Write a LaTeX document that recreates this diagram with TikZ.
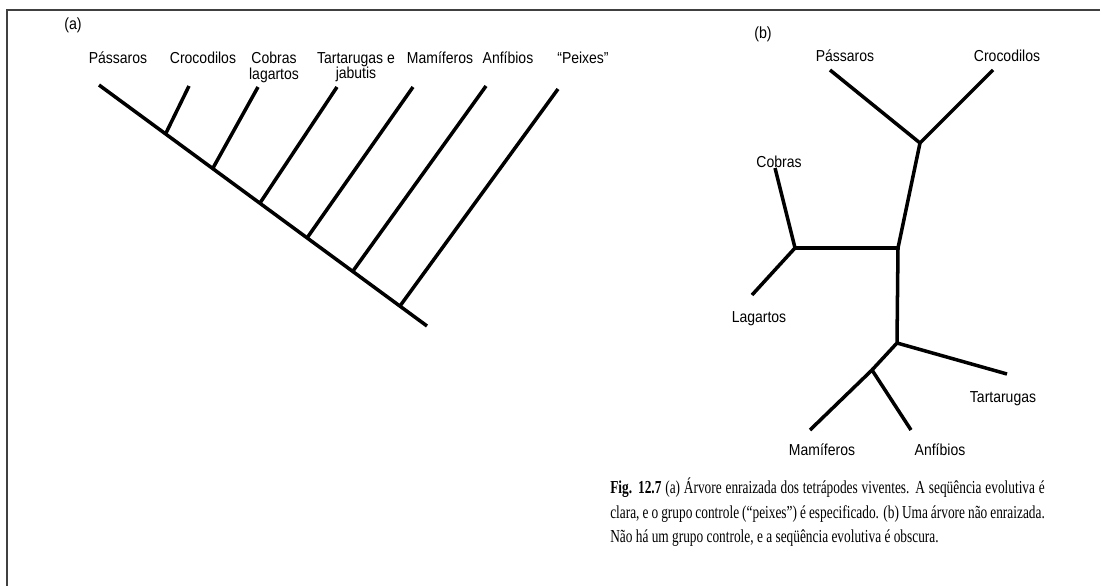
\documentclass[tikz,border=0pt]{standalone}
\usepackage{fontspec}
\setmainfont{Liberation Serif}
\setsansfont{Liberation Sans}
\newfontfamily\labfont[FakeStretch=0.88]{Liberation Sans}
\newfontfamily\capfont[FakeStretch=0.73]{Liberation Serif}
\usetikzlibrary{positioning,calc}

\begin{document}
\begin{tikzpicture}[
  x=0.025cm, y=-0.025cm,
  branch/.style={line width=2.5pt,black},
  taxon/.style={font=\labfont\fontsize{11.3}{11}\selectfont,inner sep=0pt,align=center},
  panel/.style={font=\labfont\fontsize{11.5}{12}\selectfont,inner sep=0pt},
  frame/.style={line width=0.9pt,black!75},
  caption/.style={font=\capfont\fontsize{13}{17.3}\selectfont,inner sep=0pt,text width=309pt,align=justify,anchor=north west}
]
\useasboundingbox (0,0) rectangle (1100,586);
\draw[frame] (7,586) |- (1100,10);

% (a) rooted tree
\node[panel,anchor=base] (pa) at (73,29) {(a)};
\coordinate (a0) at (99,85);
\coordinate (a9) at (427,326);
\coordinate (ja1) at (166,133);
\coordinate (ja2) at (213,168);
\coordinate (ja3) at (260,203);
\coordinate (ja4) at (307,238);
\coordinate (ja5) at (353,271);
\coordinate (ja6) at (400,306);
\coordinate (ta1) at (189,86);
\coordinate (ta2) at (258,87);
\coordinate (ta3) at (337,87);
\coordinate (ta4) at (413,87);
\coordinate (ta5) at (486,86);
\coordinate (ta6) at (558,89);
\draw[branch] (a0) -- (a9);
\foreach \i in {1,...,6}
  \draw[branch] (ja\i) -- (ta\i);

\node[taxon,anchor=north] (la0) at (118,52) {Pássaros};
\node[taxon,anchor=north] (la1) at (203,52) {Crocodilos};
\node[taxon,anchor=north] (la2) at (274,52) {Cobras\\lagartos};
\node[taxon,anchor=north] (la3) at (356,52) {Tartarugas e\\jabutis};
\node[taxon,anchor=north] (la4) at (440,52) {Mamíferos};
\node[taxon,anchor=north] (la5) at (508,52) {Anfíbios};
\node[taxon,anchor=north] (la6) at (583,52) {“Peixes”};

% (b) unrooted tree
\node[panel,anchor=base] (pb) at (763,38) {(b)};
\coordinate (jb1) at (920,143);
\coordinate (jb2) at (898,248);
\coordinate (jb3) at (795,248);
\coordinate (jb4) at (897,343);
\coordinate (jb5) at (872,370);
\coordinate (tb1) at (830,70);
\coordinate (tb2) at (993,70);
\coordinate (tb3) at (775,168);
\coordinate (tb4) at (752,295);
\coordinate (tb5) at (1007,374);
\coordinate (tb6) at (810,430);
\coordinate (tb7) at (911,430);
\draw[branch] (tb1) -- (jb1) -- (tb2);
\draw[branch] (jb1) -- (jb2) -- (jb4) -- (jb5);
\draw[branch] (jb2) -- (jb3);
\draw[branch] (tb3) -- (jb3) -- (tb4);
\draw[branch] (jb4) -- (tb5);
\draw[branch] (tb6) -- (jb5) -- (tb7);

\node[taxon,anchor=base] (lb1) at (845,61) {Pássaros};
\node[taxon,anchor=base] (lb2) at (1007,61) {Crocodilos};
\node[taxon,anchor=base] (lb3) at (779,167) {Cobras};
\node[taxon,anchor=base] (lb4) at (759,322) {Lagartos};
\node[taxon,anchor=base] (lb5) at (1003,402) {Tartarugas};
\node[taxon,anchor=base] (lb6) at (822,455) {Mamíferos};
\node[taxon,anchor=base] (lb7) at (940,455) {Anfíbios};

\node[caption] (cap) at (610,478) {\textbf{Fig. 12.7} (a) Árvore enraizada dos tetrápodes viventes. A seqüência evolutiva é\linebreak clara, e o grupo controle (“peixes”) é especificado. (b) Uma árvore não enraizada.\linebreak Não há um grupo controle, e a seqüência evolutiva é obscura.};

\end{tikzpicture}
\end{document}
